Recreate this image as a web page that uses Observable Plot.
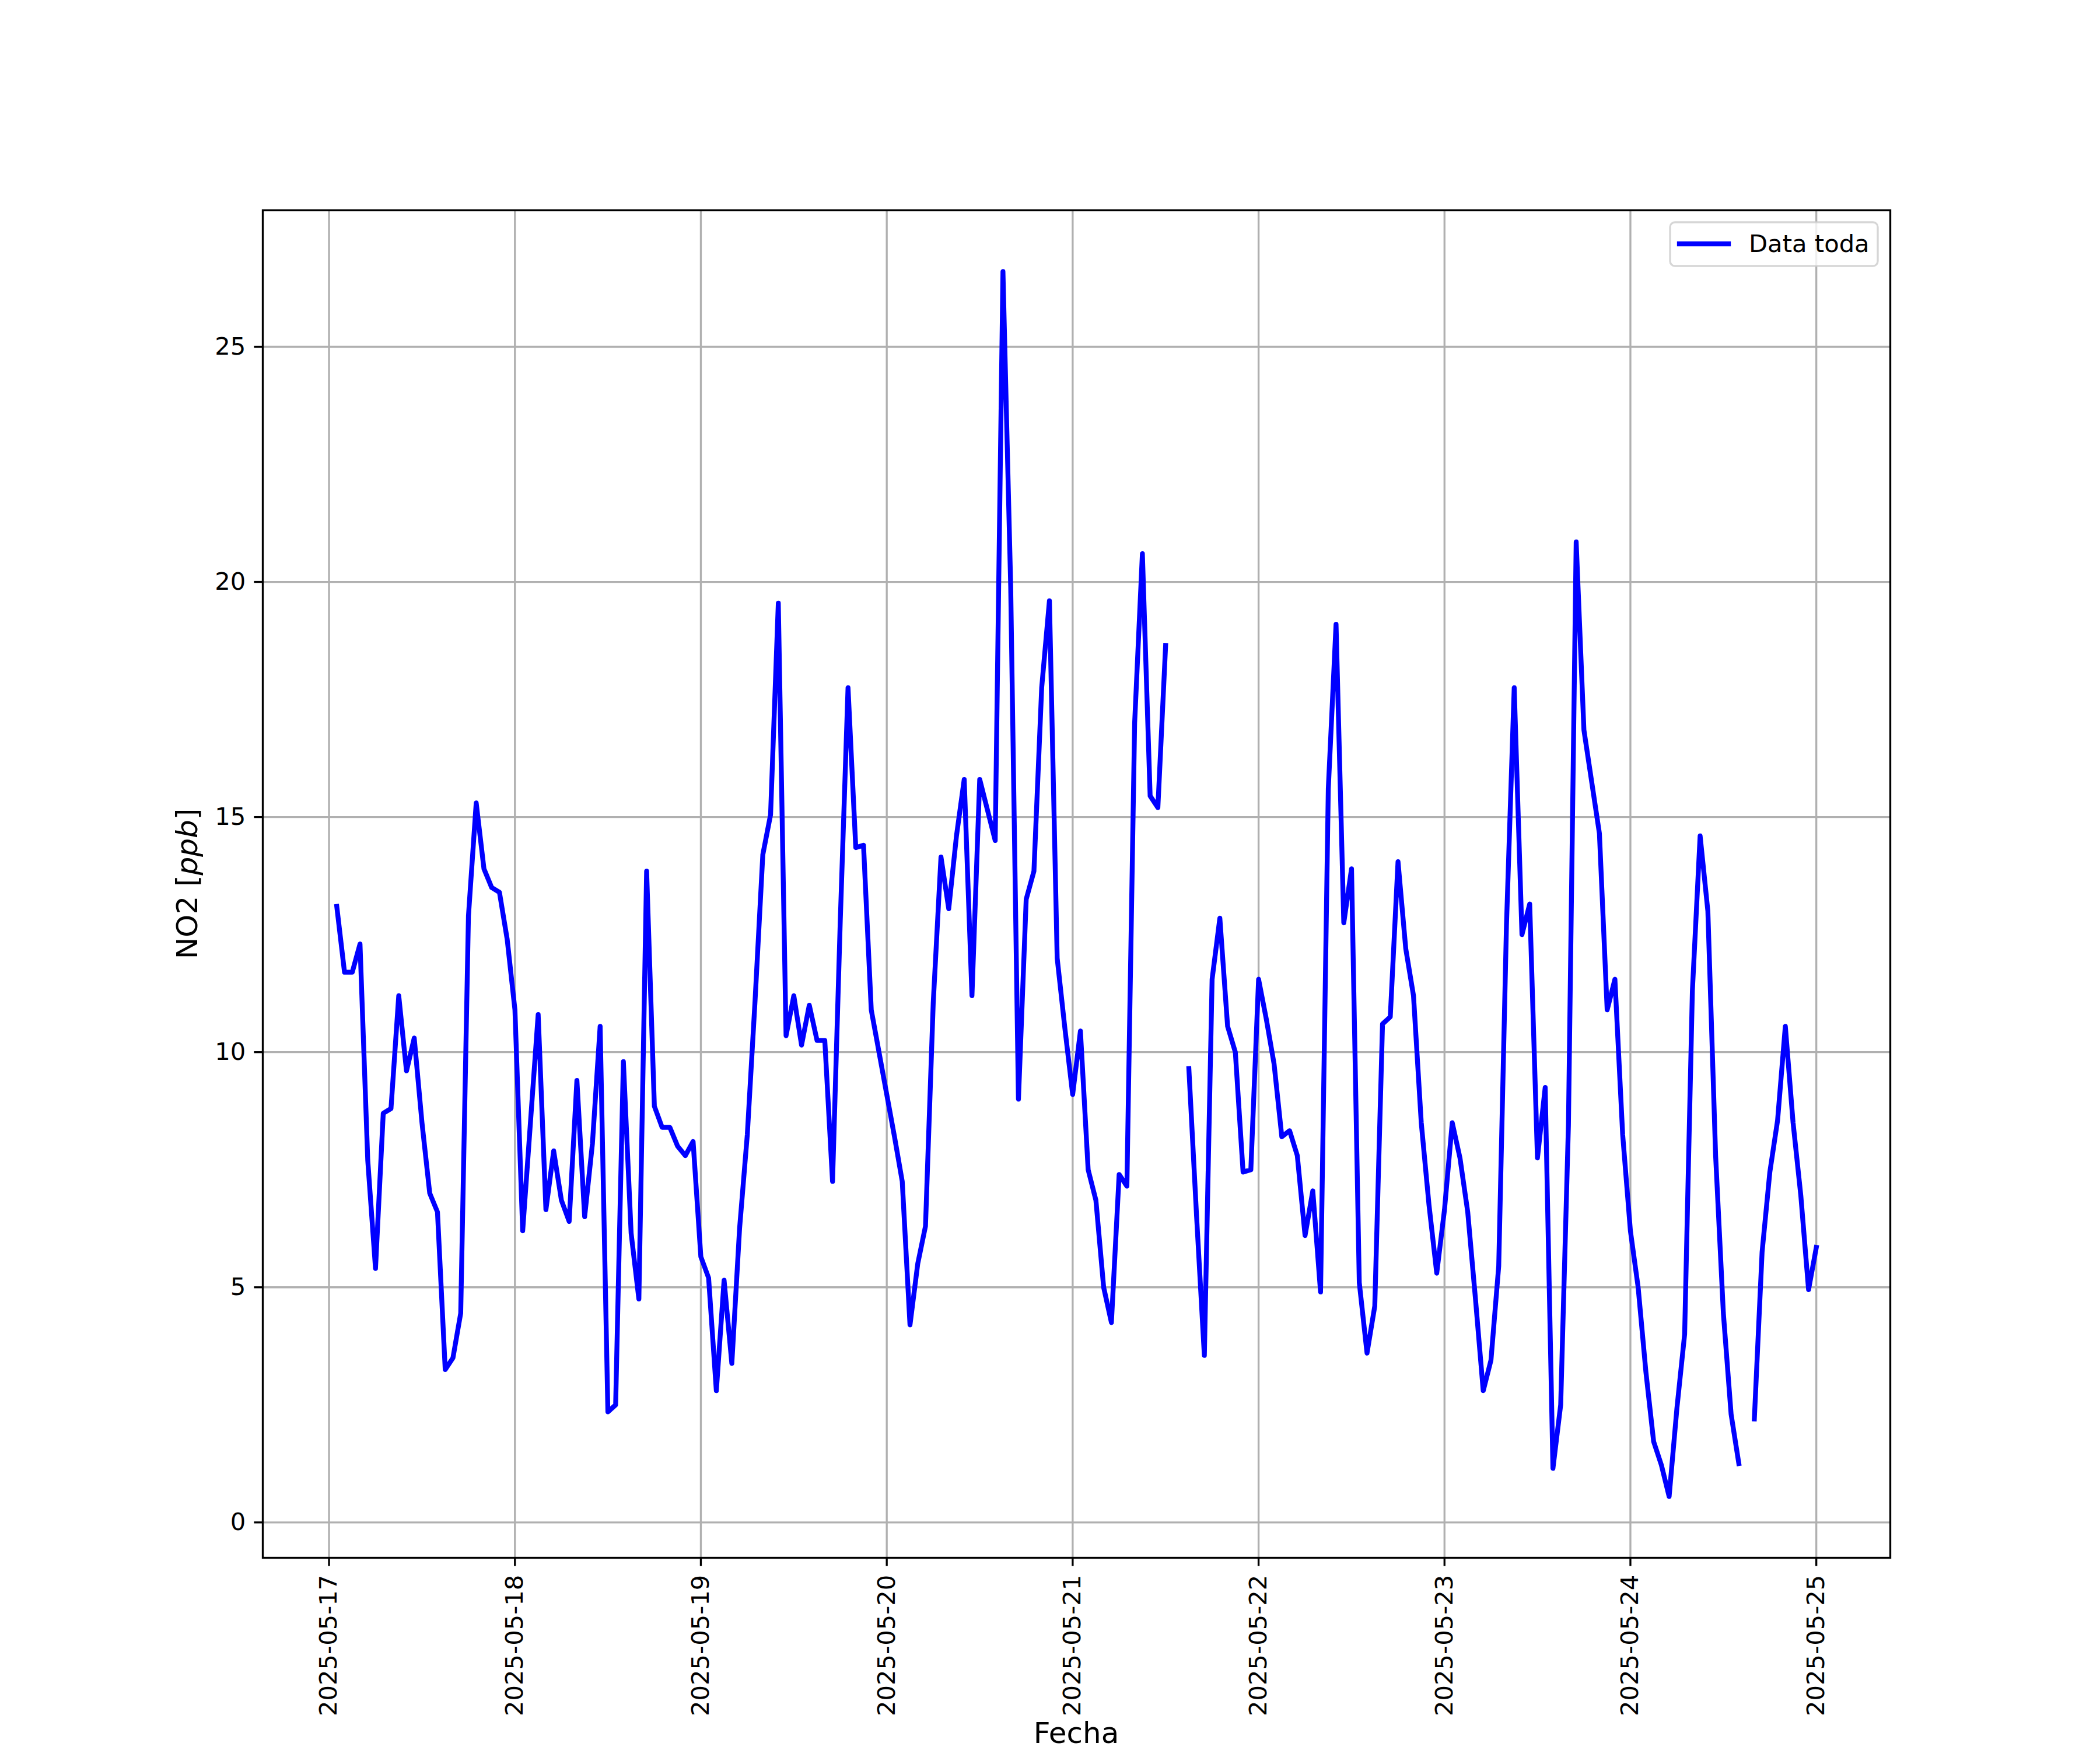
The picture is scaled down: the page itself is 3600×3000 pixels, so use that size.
<!DOCTYPE html>
<html>
<head>
<meta charset="utf-8">
<script src="https://cdn.jsdelivr.net/npm/d3@7"></script>
<script src="https://cdn.jsdelivr.net/npm/@observablehq/plot@0.6"></script>
<style>
  html, body { margin: 0; padding: 0; background: white; }
  svg { display: block; }
</style>
</head>
<body>
<script>
// ---- Data (hourly NO2, ppb) ----
const firstTime = "2025-05-17T01:00:00Z";
const no2 = [
  // 2025-05-17 01:00–23:00
  13.1, 11.7, 11.7, 12.3, 7.7, 5.4, 8.7, 8.8, 11.2, 9.6, 10.3, 8.5, 7.0, 6.6, 3.25, 3.5, 4.45, 12.9, 15.3, 13.9, 13.5, 13.4, 12.4,
  // 2025-05-18
  10.9, 6.2, 8.5, 10.8, 6.65, 7.9, 6.85, 6.4, 9.4, 6.5, 8.05, 10.55, 2.35, 2.5, 9.8, 6.15, 4.75, 13.85, 8.85, 8.4, 8.4, 8.0, 7.8, 8.1,
  // 2025-05-19
  5.65, 5.2, 2.8, 5.15, 3.38, 6.25, 8.25, 11.1, 14.2, 15.05, 19.55, 10.35, 11.2, 10.15, 11.0, 10.25, 10.25, 7.25, 12.8, 17.75, 14.35, 14.4, 10.9, 10.0,
  // 2025-05-20
  9.1, 8.2, 7.25, 4.2, 5.5, 6.3, 11.05, 14.15, 13.05, 14.6, 15.8, 11.2, 15.8, 15.15, 14.5, 26.6, 19.9, 9.0, 13.25, 13.85, 17.75, 19.6, 12.0, 10.5,
  // 2025-05-21
  9.1, 10.45, 7.5, 6.85, 5.0, 4.25, 7.4, 7.15, 17.0, 20.6, 15.45, 15.2, 18.65, null, null, 9.65, 6.5, 3.55, 11.55, 12.85, 10.55, 10.0, 7.45, 7.5,
  // 2025-05-22
  11.55, 10.7, 9.75, 8.2, 8.33, 7.8, 6.1, 7.05, 4.9, 15.6, 19.1, 12.75, 13.9, 5.1, 3.6, 4.6, 10.6, 10.75, 14.05, 12.2, 11.2, 8.5, 6.75, 5.3,
  // 2025-05-23
  6.65, 8.5, 7.75, 6.6, 4.75, 2.8, 3.45, 5.45, 12.7, 17.75, 12.5, 13.15, 7.75, 9.25, 1.15, 2.5, 8.45, 20.85, 16.85, 15.75, 14.65, 10.9, 11.55, 8.25,
  // 2025-05-24
  6.2, 5.0, 3.2, 1.72, 1.22, 0.55, 2.42, 4.0, 11.3, 14.6, 13.0, 7.8, 4.45, 2.3, 1.25, null, 2.2, 5.75, 7.45, 8.55, 10.55, 8.5, 6.95, 4.95,
  // 2025-05-25 00:00
  5.85
];
const dayTickLabels = ["2025-05-17","2025-05-18","2025-05-19","2025-05-20","2025-05-21","2025-05-22","2025-05-23","2025-05-24","2025-05-25"];
const yTicks = [0, 5, 10, 15, 20, 25];
const seriesName = "Data toda";
const xLabel = "Fecha";

// ---- Build table ----
const t0 = new Date(firstTime).getTime();
const rows = no2.map((v, i) => ({time: new Date(t0 + i * 3600e3), no2: v}));
const dayTicks = dayTickLabels.map(d => new Date(d + "T00:00:00Z"));

// matplotlib-style 5% margins
const tExt = d3.extent(rows, d => d.time.getTime());
const tPad = (tExt[1] - tExt[0]) * 0.05;
const xDomain = [new Date(tExt[0] - tPad), new Date(tExt[1] + tPad)];
const vExt = d3.extent(rows.filter(d => d.no2 != null), d => d.no2);
const vPad = (vExt[1] - vExt[0]) * 0.05;
const yDomain = [vExt[0] - vPad, vExt[1] + vPad];

const LW = 3.33;
const chart = Plot.plot({
  width: 3600, height: 3000,
  marginLeft: 450, marginRight: 360, marginTop: 360, marginBottom: 330,
  style: {fontFamily: "DejaVu Sans", background: "white", color: "black"},
  x: {type: "utc", domain: xDomain},
  y: {domain: yDomain},
  marks: [
    Plot.gridX(dayTicks, {stroke: "#b0b0b0", strokeOpacity: 1, strokeWidth: LW}),
    Plot.gridY(yTicks, {stroke: "#b0b0b0", strokeOpacity: 1, strokeWidth: LW}),
    Plot.line(rows, {x: "time", y: "no2", stroke: "#0000ff", strokeWidth: 8.33, strokeLinejoin: "round", strokeLinecap: "square"}),
    Plot.frame({stroke: "black", strokeWidth: LW}),
    Plot.axisX(dayTicks, {tickFormat: d3.utcFormat("%Y-%m-%d"), tickRotate: -90, tickSize: 14.6, tickPadding: 14.6, fontSize: 41.7, strokeWidth: LW, label: null}),
    Plot.axisY(yTicks, {tickFormat: d => String(d), tickSize: 14.6, tickPadding: 14.6, fontSize: 41.7, strokeWidth: LW, label: null})
  ]
});
document.body.appendChild(chart);

const svg = d3.select(chart);
// y label with italic unit
const yl = svg.append("text")
  .attr("transform", "translate(338,1515) rotate(-90)")
  .attr("text-anchor", "middle")
  .attr("font-size", 50)
  .attr("fill", "black");
yl.append("tspan").text("NO2 [");
yl.append("tspan").attr("font-style", "italic").text("ppb");
yl.append("tspan").text("]");

// x label
svg.append("text")
  .attr("x", 1845).attr("y", 2988)
  .attr("text-anchor", "middle")
  .attr("font-size", 50)
  .attr("fill", "black")
  .text(xLabel);

// legend (upper right)
const lg = svg.append("g");
lg.append("rect")
  .attr("x", 2863).attr("y", 381).attr("width", 356).attr("height", 75)
  .attr("rx", 8.3).attr("ry", 8.3)
  .attr("fill", "white").attr("fill-opacity", 0.8)
  .attr("stroke", "#cccccc").attr("stroke-opacity", 0.8).attr("stroke-width", LW);
lg.append("line")
  .attr("x1", 2879).attr("x2", 2963).attr("y1", 418).attr("y2", 418)
  .attr("stroke", "#0000ff").attr("stroke-width", 8.33).attr("stroke-linecap", "square");
lg.append("text")
  .attr("x", 2998).attr("y", 432)
  .attr("text-anchor", "start")
  .attr("font-size", 41.7)
  .attr("fill", "black")
  .text(seriesName);
</script>
</body>
</html>
